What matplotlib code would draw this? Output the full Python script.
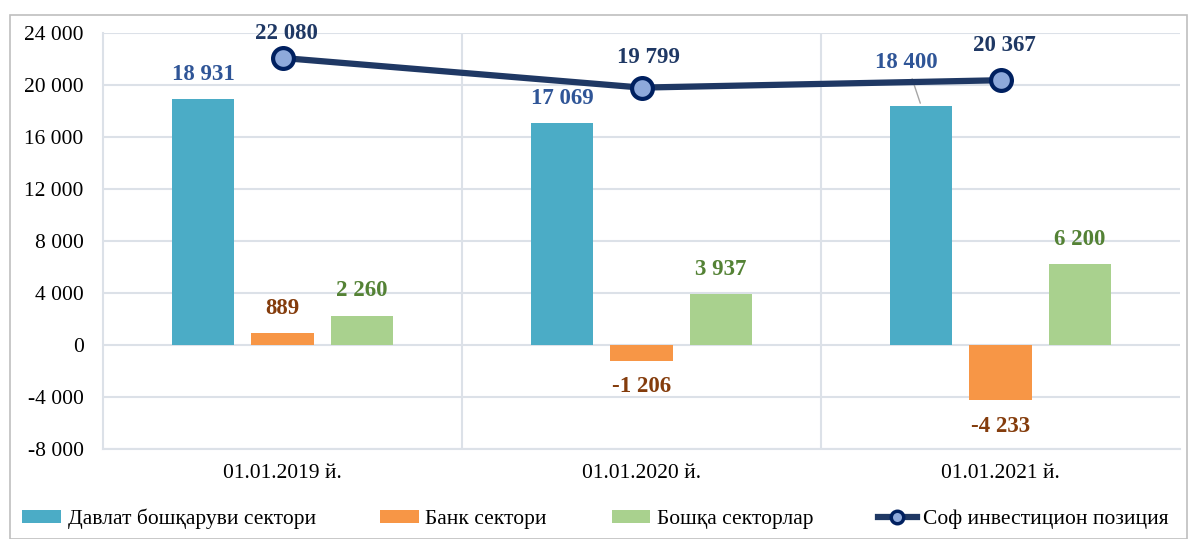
import matplotlib.pyplot as plt
import numpy as np
from matplotlib.patches import Rectangle
from matplotlib.lines import Line2D

plt.rcParams['font.family'] = ['Liberation Serif', 'DejaVu Serif']

categories = ['01.01.2019 й.', '01.01.2020 й.', '01.01.2021 й.']
gov = [18931, 17069, 18400]
bank = [889, -1206, -4233]
other = [2260, 3937, 6200]
net = [22080, 19799, 20367]
series_names = ['Давлат бошқаруви сектори', 'Банк сектори', 'Бошқа секторлар',
                'Соф инвестицион позиция']

def fmt(v):
    s = '{:,}'.format(abs(v)).replace(',', ' ')
    return '-' + s if v < 0 else s

fig = plt.figure(figsize=(11.91, 5.39), dpi=100)
fig.patches.append(Rectangle((10/1191, 0), 1177/1191, 1 - 15/539, transform=fig.transFigure,
                             fill=False, edgecolor='#BFBFBF', lw=1.2))
ax = fig.add_axes([103/1191, 1 - 449/539, 1077/1191, 416/539])

x = np.arange(len(categories))
w = 0.173
step = 0.221
b1 = ax.bar(x - step, gov, w, color='#4BACC6', label=series_names[0], zorder=3)
b2 = ax.bar(x, bank, w, color='#F79646', label=series_names[1], zorder=3)
b3 = ax.bar(x + step, other, w, color='#A9D18E', label=series_names[2], zorder=3)
ax.plot(x, net, color='#1F3864', lw=4.5, marker='o', ms=15, mfc='#8EA9DB', mec='#002060',
        mew=3, zorder=5)
line_handle = Line2D([], [], color='#1F3864', lw=4.5, marker='o', ms=9, mfc='#8EA9DB',
                     mec='#002060', mew=2.5)

ax.set_xlim(-0.5, 2.5)
ax.set_ylim(-8000, 24000)
ax.set_yticks(np.arange(-8000, 24001, 4000))
ax.set_yticklabels([fmt(v) for v in np.arange(-8000, 24001, 4000)], fontsize=15.5)
ax.set_xticks(x)
ax.set_xticklabels(categories, fontsize=15.5)
ax.tick_params(length=0, pad=11)
ax.tick_params(axis='y', pad=14)
for y in np.arange(-8000, 24001, 4000):
    ax.axhline(y, color='#DCE1E8', lw=1.5, zorder=1)
for xv in [0.5, 1.5]:
    ax.axvline(xv, color='#DCE1E8', lw=1.5, zorder=1)
for s in ['top', 'right']:
    ax.spines[s].set_visible(False)
ax.spines['left'].set_color('#DCE1E8')
ax.spines['left'].set_linewidth(1.5)
ax.spines['bottom'].set_color('#DCE1E8')
ax.spines['bottom'].set_linewidth(1.5)

lab = dict(fontsize=16.5, fontweight='bold', ha='center')
for i in range(3):
    if i == 2:
        ax.annotate(fmt(gov[i]), xy=(x[i] - step, gov[i]), xytext=(x[i] - step - 0.04, gov[i] + 3300),
                    color='#2F5597', va='center', arrowprops=dict(arrowstyle='-', color='#A6A6A6', lw=1),
                    **lab)
    else:
        ax.text(x[i] - step, gov[i] + 1900, fmt(gov[i]), color='#2F5597', va='center', **lab)
    if bank[i] >= 0:
        ax.text(x[i], bank[i] + 1900, fmt(bank[i]), color='#843C0C', va='center', **lab)
    else:
        ax.text(x[i], bank[i] - 2000, fmt(bank[i]), color='#843C0C', va='center', **lab)
    ax.text(x[i] + step, other[i] + 1900, fmt(other[i]), color='#548235', va='center', **lab)

ax.text(x[0] + 0.01, net[0] + 1850, fmt(net[0]), color='#1F3864', va='center', **lab)
ax.text(x[1] + 0.02, net[1] + 2300, fmt(net[1]), color='#1F3864', va='center', **lab)
ax.text(x[2] + 0.01, net[2] + 2700, fmt(net[2]), color='#1F3864', va='center', **lab)

fig.legend([b1, b2, b3, line_handle], series_names, loc='center',
           bbox_to_anchor=(0.5, 1 - 519/539), ncol=4, frameon=False, fontsize=15.5,
           handlelength=1.8, handleheight=0.6, handletextpad=0.3, columnspacing=3.0)

fig.savefig('out.png', dpi=100)
